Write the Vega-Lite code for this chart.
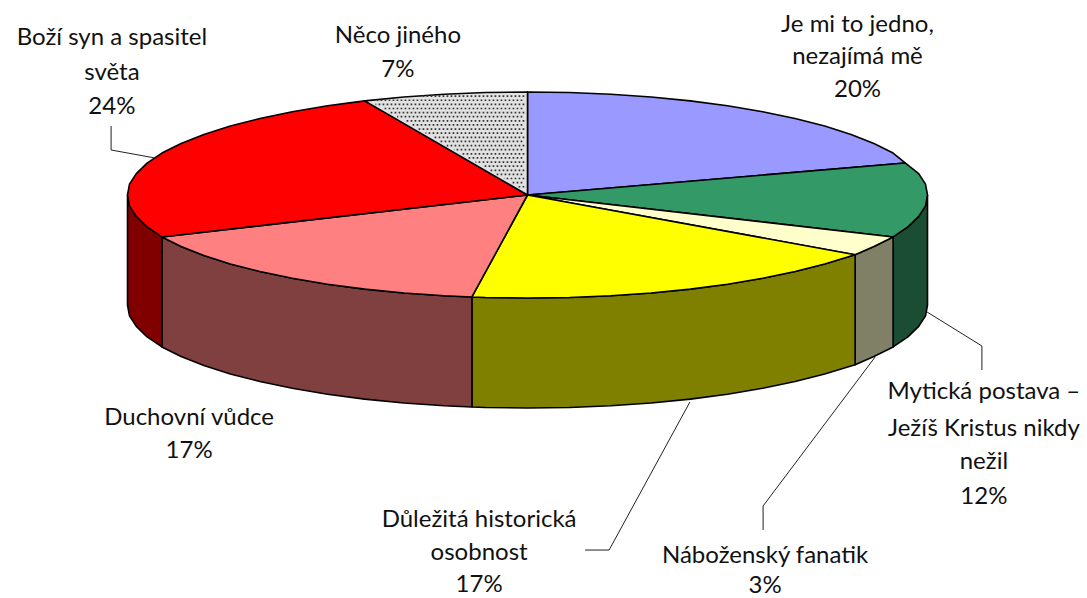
{"$schema":"https://vega.github.io/schema/vega-lite/v6.json","width":1087,"height":598,"padding":0,"autosize":"none","background":"white","config":{"view":{"stroke":null}},
"datasets":{
"sides":[
{"p":"s1","i":0,"x":1,"y":0},{"p":"s1","i":1,"x":0.995,"y":-0.105},{"p":"s1","i":2,"x":0.978,"y":-0.208},{"p":"s1","i":3,"x":0.951,"y":-0.309},{"p":"s1","i":4,"x":0.914,"y":-0.407},{"p":"s1","i":5,"x":0.914,"y":-1.475},{"p":"s1","i":6,"x":0.951,"y":-1.377},{"p":"s1","i":7,"x":0.978,"y":-1.276},{"p":"s1","i":8,"x":0.995,"y":-1.173},{"p":"s1","i":9,"x":1,"y":-1.068},{"p":"s1","i":10,"x":1,"y":0},
{"p":"s2","i":0,"x":0.914,"y":-0.407},{"p":"s2","i":1,"x":0.866,"y":-0.5},{"p":"s2","i":2,"x":0.819,"y":-0.58},{"p":"s2","i":3,"x":0.819,"y":-1.648},{"p":"s2","i":4,"x":0.866,"y":-1.568},{"p":"s2","i":5,"x":0.914,"y":-1.475},{"p":"s2","i":6,"x":0.914,"y":-0.407},
{"p":"s3","i":0,"x":0.819,"y":-0.58},{"p":"s3","i":1,"x":0.743,"y":-0.669},{"p":"s3","i":2,"x":0.669,"y":-0.743},{"p":"s3","i":3,"x":0.588,"y":-0.809},{"p":"s3","i":4,"x":0.5,"y":-0.866},{"p":"s3","i":5,"x":0.407,"y":-0.914},{"p":"s3","i":6,"x":0.309,"y":-0.951},{"p":"s3","i":7,"x":0.208,"y":-0.978},{"p":"s3","i":8,"x":0.105,"y":-0.995},{"p":"s3","i":9,"x":0,"y":-1},{"p":"s3","i":10,"x":-0.105,"y":-0.995},{"p":"s3","i":11,"x":-0.139,"y":-0.99},{"p":"s3","i":12,"x":-0.139,"y":-2.058},{"p":"s3","i":13,"x":-0.105,"y":-2.063},{"p":"s3","i":14,"x":0,"y":-2.068},{"p":"s3","i":15,"x":0.105,"y":-2.063},{"p":"s3","i":16,"x":0.208,"y":-2.046},{"p":"s3","i":17,"x":0.309,"y":-2.019},{"p":"s3","i":18,"x":0.407,"y":-1.982},{"p":"s3","i":19,"x":0.5,"y":-1.934},{"p":"s3","i":20,"x":0.588,"y":-1.877},{"p":"s3","i":21,"x":0.669,"y":-1.811},{"p":"s3","i":22,"x":0.743,"y":-1.737},{"p":"s3","i":23,"x":0.819,"y":-1.648},{"p":"s3","i":24,"x":0.819,"y":-0.58},
{"p":"s4","i":0,"x":-0.139,"y":-0.99},{"p":"s4","i":1,"x":-0.208,"y":-0.978},{"p":"s4","i":2,"x":-0.309,"y":-0.951},{"p":"s4","i":3,"x":-0.407,"y":-0.914},{"p":"s4","i":4,"x":-0.5,"y":-0.866},{"p":"s4","i":5,"x":-0.588,"y":-0.809},{"p":"s4","i":6,"x":-0.669,"y":-0.743},{"p":"s4","i":7,"x":-0.743,"y":-0.669},{"p":"s4","i":8,"x":-0.809,"y":-0.588},{"p":"s4","i":9,"x":-0.866,"y":-0.5},{"p":"s4","i":10,"x":-0.914,"y":-0.407},{"p":"s4","i":11,"x":-0.914,"y":-1.475},{"p":"s4","i":12,"x":-0.866,"y":-1.568},{"p":"s4","i":13,"x":-0.809,"y":-1.656},{"p":"s4","i":14,"x":-0.743,"y":-1.737},{"p":"s4","i":15,"x":-0.669,"y":-1.811},{"p":"s4","i":16,"x":-0.588,"y":-1.877},{"p":"s4","i":17,"x":-0.5,"y":-1.934},{"p":"s4","i":18,"x":-0.407,"y":-1.982},{"p":"s4","i":19,"x":-0.309,"y":-2.019},{"p":"s4","i":20,"x":-0.208,"y":-2.046},{"p":"s4","i":21,"x":-0.139,"y":-2.058},{"p":"s4","i":22,"x":-0.139,"y":-0.99},
{"p":"s5","i":0,"x":-0.914,"y":-0.407},{"p":"s5","i":1,"x":-0.951,"y":-0.309},{"p":"s5","i":2,"x":-0.978,"y":-0.208},{"p":"s5","i":3,"x":-0.995,"y":-0.105},{"p":"s5","i":4,"x":-1,"y":0},{"p":"s5","i":5,"x":-1,"y":-1.068},{"p":"s5","i":6,"x":-0.995,"y":-1.173},{"p":"s5","i":7,"x":-0.978,"y":-1.276},{"p":"s5","i":8,"x":-0.951,"y":-1.377},{"p":"s5","i":9,"x":-0.914,"y":-1.475},{"p":"s5","i":10,"x":-0.914,"y":-0.407}
],
"tops":[
{"p":"t1","i":0,"x":0,"y":0},{"p":"t1","i":1,"x":0,"y":1},{"p":"t1","i":2,"x":0.105,"y":0.995},{"p":"t1","i":3,"x":0.208,"y":0.978},{"p":"t1","i":4,"x":0.309,"y":0.951},{"p":"t1","i":5,"x":0.407,"y":0.914},{"p":"t1","i":6,"x":0.5,"y":0.866},{"p":"t1","i":7,"x":0.588,"y":0.809},{"p":"t1","i":8,"x":0.669,"y":0.743},{"p":"t1","i":9,"x":0.743,"y":0.669},{"p":"t1","i":10,"x":0.809,"y":0.588},{"p":"t1","i":11,"x":0.866,"y":0.5},{"p":"t1","i":12,"x":0.914,"y":0.407},{"p":"t1","i":13,"x":0.944,"y":0.311},{"p":"t1","i":14,"x":0,"y":0},
{"p":"t2","i":0,"x":0,"y":0},{"p":"t2","i":1,"x":0.944,"y":0.311},{"p":"t2","i":2,"x":0.978,"y":0.208},{"p":"t2","i":3,"x":0.995,"y":0.105},{"p":"t2","i":4,"x":1,"y":0},{"p":"t2","i":5,"x":0.995,"y":-0.105},{"p":"t2","i":6,"x":0.978,"y":-0.208},{"p":"t2","i":7,"x":0.951,"y":-0.309},{"p":"t2","i":8,"x":0.914,"y":-0.407},{"p":"t2","i":9,"x":0,"y":0},
{"p":"t3","i":0,"x":0,"y":0},{"p":"t3","i":1,"x":0.914,"y":-0.407},{"p":"t3","i":2,"x":0.866,"y":-0.5},{"p":"t3","i":3,"x":0.819,"y":-0.58},{"p":"t3","i":4,"x":0,"y":0},
{"p":"t4","i":0,"x":0,"y":0},{"p":"t4","i":1,"x":0.819,"y":-0.58},{"p":"t4","i":2,"x":0.743,"y":-0.669},{"p":"t4","i":3,"x":0.669,"y":-0.743},{"p":"t4","i":4,"x":0.588,"y":-0.809},{"p":"t4","i":5,"x":0.5,"y":-0.866},{"p":"t4","i":6,"x":0.407,"y":-0.914},{"p":"t4","i":7,"x":0.309,"y":-0.951},{"p":"t4","i":8,"x":0.208,"y":-0.978},{"p":"t4","i":9,"x":0.105,"y":-0.995},{"p":"t4","i":10,"x":0,"y":-1},{"p":"t4","i":11,"x":-0.105,"y":-0.995},{"p":"t4","i":12,"x":-0.139,"y":-0.99},{"p":"t4","i":13,"x":0,"y":0},
{"p":"t5","i":0,"x":0,"y":0},{"p":"t5","i":1,"x":-0.139,"y":-0.99},{"p":"t5","i":2,"x":-0.208,"y":-0.978},{"p":"t5","i":3,"x":-0.309,"y":-0.951},{"p":"t5","i":4,"x":-0.407,"y":-0.914},{"p":"t5","i":5,"x":-0.5,"y":-0.866},{"p":"t5","i":6,"x":-0.588,"y":-0.809},{"p":"t5","i":7,"x":-0.669,"y":-0.743},{"p":"t5","i":8,"x":-0.743,"y":-0.669},{"p":"t5","i":9,"x":-0.809,"y":-0.588},{"p":"t5","i":10,"x":-0.866,"y":-0.5},{"p":"t5","i":11,"x":-0.914,"y":-0.407},{"p":"t5","i":12,"x":0,"y":0},
{"p":"t6","i":0,"x":0,"y":0},{"p":"t6","i":1,"x":-0.914,"y":-0.407},{"p":"t6","i":2,"x":-0.951,"y":-0.309},{"p":"t6","i":3,"x":-0.978,"y":-0.208},{"p":"t6","i":4,"x":-0.995,"y":-0.105},{"p":"t6","i":5,"x":-1,"y":0},{"p":"t6","i":6,"x":-0.995,"y":0.105},{"p":"t6","i":7,"x":-0.978,"y":0.208},{"p":"t6","i":8,"x":-0.951,"y":0.309},{"p":"t6","i":9,"x":-0.914,"y":0.407},{"p":"t6","i":10,"x":-0.866,"y":0.5},{"p":"t6","i":11,"x":-0.809,"y":0.588},{"p":"t6","i":12,"x":-0.743,"y":0.669},{"p":"t6","i":13,"x":-0.669,"y":0.743},{"p":"t6","i":14,"x":-0.588,"y":0.809},{"p":"t6","i":15,"x":-0.5,"y":0.866},{"p":"t6","i":16,"x":-0.407,"y":0.914},{"p":"t6","i":17,"x":0,"y":0},
{"p":"t7","i":0,"x":0,"y":0},{"p":"t7","i":1,"x":-0.407,"y":0.914},{"p":"t7","i":2,"x":-0.309,"y":0.951},{"p":"t7","i":3,"x":-0.208,"y":0.978},{"p":"t7","i":4,"x":-0.105,"y":0.995},{"p":"t7","i":5,"x":0,"y":1},{"p":"t7","i":6,"x":0,"y":0}
],
"dots":[
{"r":1,"b":"a","i":0,"x":-0.008,"y":0.08},{"r":1,"b":"a","i":1,"x":-0.024,"y":0.08},
{"r":2,"b":"b","i":0,"x":-0.008,"y":0.12},{"r":2,"b":"b","i":1,"x":-0.041,"y":0.12},
{"r":3,"b":"a","i":0,"x":-0.008,"y":0.16},{"r":3,"b":"a","i":1,"x":-0.059,"y":0.16},
{"r":4,"b":"b","i":0,"x":-0.008,"y":0.2},{"r":4,"b":"b","i":1,"x":-0.077,"y":0.2},
{"r":5,"b":"a","i":0,"x":-0.008,"y":0.24},{"r":5,"b":"a","i":1,"x":-0.095,"y":0.24},
{"r":6,"b":"b","i":0,"x":-0.008,"y":0.28},{"r":6,"b":"b","i":1,"x":-0.113,"y":0.28},
{"r":7,"b":"a","i":0,"x":-0.008,"y":0.32},{"r":7,"b":"a","i":1,"x":-0.13,"y":0.32},
{"r":8,"b":"b","i":0,"x":-0.008,"y":0.36},{"r":8,"b":"b","i":1,"x":-0.148,"y":0.36},
{"r":9,"b":"a","i":0,"x":-0.008,"y":0.4},{"r":9,"b":"a","i":1,"x":-0.166,"y":0.4},
{"r":10,"b":"b","i":0,"x":-0.008,"y":0.44},{"r":10,"b":"b","i":1,"x":-0.184,"y":0.44},
{"r":11,"b":"a","i":0,"x":-0.008,"y":0.48},{"r":11,"b":"a","i":1,"x":-0.202,"y":0.48},
{"r":12,"b":"b","i":0,"x":-0.008,"y":0.52},{"r":12,"b":"b","i":1,"x":-0.219,"y":0.52},
{"r":13,"b":"a","i":0,"x":-0.008,"y":0.56},{"r":13,"b":"a","i":1,"x":-0.237,"y":0.56},
{"r":14,"b":"b","i":0,"x":-0.008,"y":0.6},{"r":14,"b":"b","i":1,"x":-0.255,"y":0.6},
{"r":15,"b":"a","i":0,"x":-0.008,"y":0.64},{"r":15,"b":"a","i":1,"x":-0.273,"y":0.64},
{"r":16,"b":"b","i":0,"x":-0.008,"y":0.68},{"r":16,"b":"b","i":1,"x":-0.291,"y":0.68},
{"r":17,"b":"a","i":0,"x":-0.008,"y":0.72},{"r":17,"b":"a","i":1,"x":-0.308,"y":0.72},
{"r":18,"b":"b","i":0,"x":-0.008,"y":0.76},{"r":18,"b":"b","i":1,"x":-0.326,"y":0.76},
{"r":19,"b":"a","i":0,"x":-0.008,"y":0.8},{"r":19,"b":"a","i":1,"x":-0.344,"y":0.8},
{"r":20,"b":"b","i":0,"x":-0.008,"y":0.84},{"r":20,"b":"b","i":1,"x":-0.362,"y":0.84},
{"r":21,"b":"a","i":0,"x":-0.008,"y":0.88},{"r":21,"b":"a","i":1,"x":-0.38,"y":0.88},
{"r":22,"b":"b","i":0,"x":-0.008,"y":0.92},{"r":22,"b":"b","i":1,"x":-0.382,"y":0.92},
{"r":23,"b":"a","i":0,"x":-0.008,"y":0.96},{"r":23,"b":"a","i":1,"x":-0.27,"y":0.96}
],
"leaders":[
{"l":"m","i":0,"x":0.999,"y":-1.136},{"l":"m","i":1,"x":1.136,"y":-1.466},{"l":"m","i":2,"x":1.136,"y":-1.699},
{"l":"b","i":0,"x":-1.041,"y":0.67},{"l":"b","i":1,"x":-1.041,"y":0.437},{"l":"b","i":2,"x":-0.931,"y":0.359},
{"l":"d","i":0,"x":0.406,"y":-2.01},{"l":"d","i":1,"x":0.204,"y":-3.447},{"l":"d","i":2,"x":0.144,"y":-3.447},
{"l":"n","i":0,"x":0.869,"y":-1.573},{"l":"n","i":1,"x":0.589,"y":-3.019},{"l":"n","i":2,"x":0.589,"y":-3.252}
],
"labels":[
{"t":"Je mi to jedno,","x":0.825,"y":1.65},{"t":"nezajímá mě","x":0.825,"y":1.34},{"t":"20%","x":0.825,"y":1.019},
{"t":"Něco jiného","x":-0.324,"y":1.544},{"t":"7%","x":-0.324,"y":1.214},
{"t":"Boží syn a spasitel","x":-1.039,"y":1.524},{"t":"světa","x":-1.039,"y":1.184},{"t":"24%","x":-1.039,"y":0.854},
{"t":"Duchovní vůdce","x":-0.846,"y":-2.165},{"t":"17%","x":-0.846,"y":-2.485},
{"t":"Mytická postava –","x":1.141,"y":-1.913},{"t":"Ježíš Kristus nikdy","x":1.141,"y":-2.272},{"t":"nežil","x":1.141,"y":-2.592},{"t":"12%","x":1.141,"y":-2.932},
{"t":"Důležitá historická","x":-0.121,"y":-3.155},{"t":"osobnost","x":-0.121,"y":-3.476},{"t":"17%","x":-0.121,"y":-3.79},
{"t":"Náboženský fanatik","x":0.594,"y":-3.505},{"t":"3%","x":0.594,"y":-3.8}
]},
"encoding":{
"x":{"field":"x","type":"quantitative","axis":null,"scale":{"domain":[-1.31875,1.39875],"nice":false,"zero":false}},
"y":{"field":"y","type":"quantitative","axis":null,"scale":{"domain":[-3.9126,1.8932],"nice":false,"zero":false}}
},
"layer":[
{"data":{"name":"sides"},"mark":{"type":"line","stroke":"black","strokeWidth":1.6,"strokeJoin":"round","clip":false},
"encoding":{"order":{"field":"i","type":"quantitative"},"detail":{"field":"p"},"fill":{"field":"p","type":"nominal","legend":null,"scale":{"domain":["s1","s2","s3","s4","s5","t1","t2","t3","t4","t5","t6","t7"],"range":["#1a4d33","#808066","#808000","#804040","#800000","#9999ff","#339966","#ffffcc","#ffff00","#ff8080","#ff0000","#e2e2e2"]}}}},
{"data":{"name":"tops"},"mark":{"type":"line","stroke":"black","strokeWidth":1.6,"strokeJoin":"round","clip":false},
"encoding":{"order":{"field":"i","type":"quantitative"},"detail":{"field":"p"},"fill":{"field":"p","type":"nominal","legend":null,"scale":{"domain":["s1","s2","s3","s4","s5","t1","t2","t3","t4","t5","t6","t7"],"range":["#1a4d33","#808066","#808000","#804040","#800000","#9999ff","#339966","#ffffcc","#ffff00","#ff8080","#ff0000","#e2e2e2"]}}}},
{"data":{"name":"dots"},"transform":[{"filter":"datum.b==='a'"}],"mark":{"type":"line","stroke":"#333333","strokeWidth":1.7,"strokeDash":[1.7,2.3]},
"encoding":{"order":{"field":"i","type":"quantitative"},"detail":{"field":"r"}}},
{"data":{"name":"dots"},"transform":[{"filter":"datum.b==='b'"}],"mark":{"type":"line","stroke":"#333333","strokeWidth":1.7,"strokeDash":[1.7,2.3],"strokeDashOffset":2},
"encoding":{"order":{"field":"i","type":"quantitative"},"detail":{"field":"r"}}},
{"data":{"name":"leaders"},"mark":{"type":"line","stroke":"#222222","strokeWidth":1},
"encoding":{"order":{"field":"i","type":"quantitative"},"detail":{"field":"l"}}},
{"data":{"name":"labels"},"mark":{"type":"text","font":"Lato","fontSize":24,"fill":"#111111","align":"center","baseline":"middle"},
"encoding":{"text":{"field":"t"}}}
]}
